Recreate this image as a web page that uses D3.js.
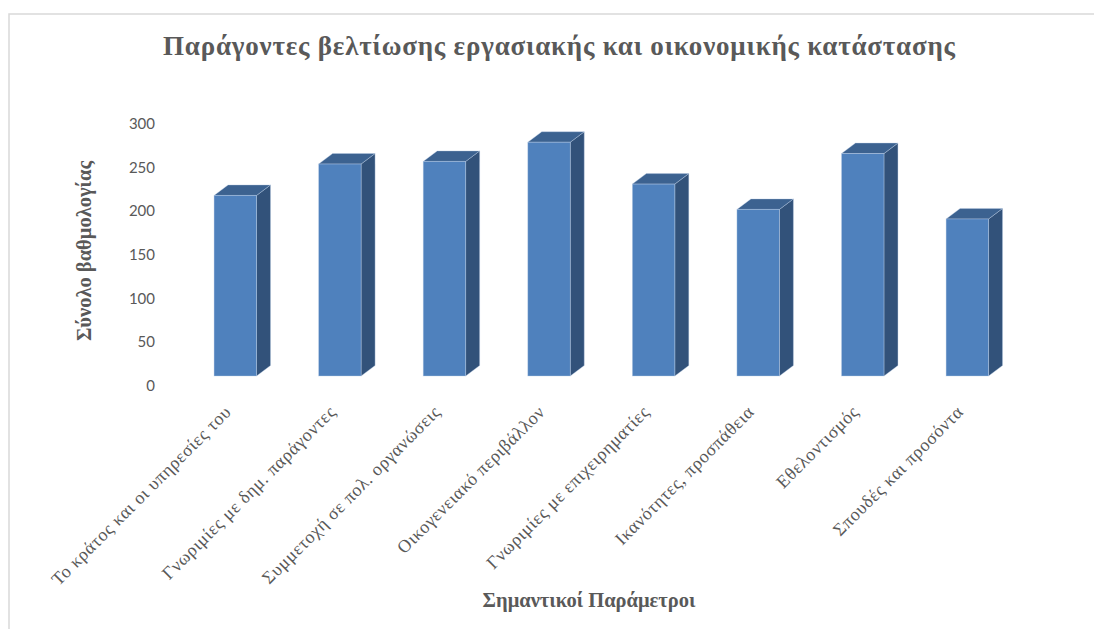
<!DOCTYPE html>
<html>
<head>
<meta charset="utf-8">
<script src="https://cdn.jsdelivr.net/npm/d3@7"></script>
<style>
  html, body { margin: 0; padding: 0; background: #ffffff; }
  svg { display: block; }
</style>
</head>
<body>
<svg id="chart" width="1094" height="629"></svg>
<script>
// Categories and total scores
const categories = [
  "Το κράτος και οι υπηρεσίες του",
  "Γνωριμίες με δημ. παράγοντες",
  "Συμμετοχή σε πολ. οργανώσεις",
  "Οικογενειακό περιβάλλον",
  "Γνωριμίες με επιχειρηματίες",
  "Ικανότητες, προσπάθεια",
  "Εθελοντισμός",
  "Σπουδές και προσόντα"
];
const scores = [207, 243, 246, 268, 220, 191, 255, 180];
const valueTicks = [0, 50, 100, 150, 200, 250, 300];

const chartTitle = "Παράγοντες βελτίωσης εργασιακής και οικονομικής κατάστασης";
const yAxisTitle = "Σύνολο βαθμολογίας";
const xAxisTitle = "Σημαντικοί Παράμετροι";

const svg = d3.select("#chart");
const textGray = "#595959";
const serif = "'Liberation Serif', 'Times New Roman', serif";

// Chart area frame (extends past the right and bottom edges)
svg.append("rect")
  .attr("x", 9).attr("y", 14)
  .attr("width", 1200).attr("height", 700)
  .attr("fill", "#ffffff")
  .attr("stroke", "#d9d9d9")
  .attr("stroke-width", 1.5);

// Scales
const x = d3.scaleBand().domain(categories).range([183, 1019.6]);
const y = d3.scaleLinear().domain([0, 300]).range([385, 123.3]);

// Oblique 3-D projection: bars sit behind the axis plane
const depthX = 14, depthY = 10.5;
const barShift = 9;
const barW = x.bandwidth() * 0.406;
const yb = v => y(v) - barShift;

// Value axis labels
const yAxis = d3.axisLeft(y).tickValues(valueTicks).tickSize(0).tickPadding(0);
const yg = svg.append("g").attr("transform", "translate(155,0)").call(yAxis);
yg.select(".domain").remove();
yg.selectAll("text")
  .attr("fill", textGray)
  .style("font-family", "Lato, 'Open Sans', sans-serif")
  .style("font-size", "15px")
  .attr("dy", "0.35em");

// Bars
const bars = svg.append("g").selectAll("g.bar")
  .data(categories.map((c, i) => ({ c, v: scores[i] })))
  .join("g").attr("class", "bar");

const edge = "rgba(190,208,232,0.55)";

bars.append("path") // right side face
  .attr("d", d => {
    const xr = x(d.c) + x.bandwidth() / 2 + barW / 2;
    const yt = yb(d.v), y0 = yb(0);
    return `M${xr},${yt}L${xr + depthX},${yt - depthY}L${xr + depthX},${y0 - depthY}L${xr},${y0}Z`;
  })
  .attr("fill", "#32527a")
  .attr("stroke", edge).attr("stroke-width", 0.7);

bars.append("path") // top face
  .attr("d", d => {
    const xl = x(d.c) + x.bandwidth() / 2 - barW / 2;
    const xr = xl + barW;
    const yt = yb(d.v);
    return `M${xl},${yt}L${xl + depthX},${yt - depthY}L${xr + depthX},${yt - depthY}L${xr},${yt}Z`;
  })
  .attr("fill", "#3c6290")
  .attr("stroke", edge).attr("stroke-width", 0.7);

bars.append("rect") // front face
  .attr("x", d => x(d.c) + x.bandwidth() / 2 - barW / 2)
  .attr("y", d => yb(d.v))
  .attr("width", barW)
  .attr("height", d => yb(0) - yb(d.v))
  .attr("fill", "#4f81bd")
  .attr("stroke", edge).attr("stroke-width", 0.7);

// Category labels, rotated
svg.append("g").selectAll("text")
  .data(categories)
  .join("text")
  .attr("transform", d => `translate(${x(d) + x.bandwidth() / 2 - 3},${413}) rotate(-45)`)
  .attr("text-anchor", "end")
  .attr("fill", textGray)
  .style("font-family", serif)
  .style("font-size", "18px")
  .style("letter-spacing", "0.6px")
  .text(d => d);

// Chart title, spread across its span
svg.append("text")
  .attr("x", 559).attr("y", 55)
  .attr("text-anchor", "middle")
  .attr("fill", textGray)
  .style("font-family", serif)
  .style("font-weight", "bold")
  .style("font-size", "27px")
  .attr("textLength", 792)
  .attr("lengthAdjust", "spacing")
  .text(chartTitle);

// Axis titles
svg.append("text")
  .attr("transform", "translate(91,251) rotate(-90)")
  .attr("text-anchor", "middle")
  .attr("fill", textGray)
  .style("font-family", serif)
  .style("font-weight", "bold")
  .style("font-size", "20.5px")
  .text(yAxisTitle);

svg.append("text")
  .attr("x", 589).attr("y", 607)
  .attr("text-anchor", "middle")
  .attr("fill", textGray)
  .style("font-family", serif)
  .style("font-weight", "bold")
  .style("font-size", "20.5px")
  .text(xAxisTitle);
</script>
</body>
</html>
